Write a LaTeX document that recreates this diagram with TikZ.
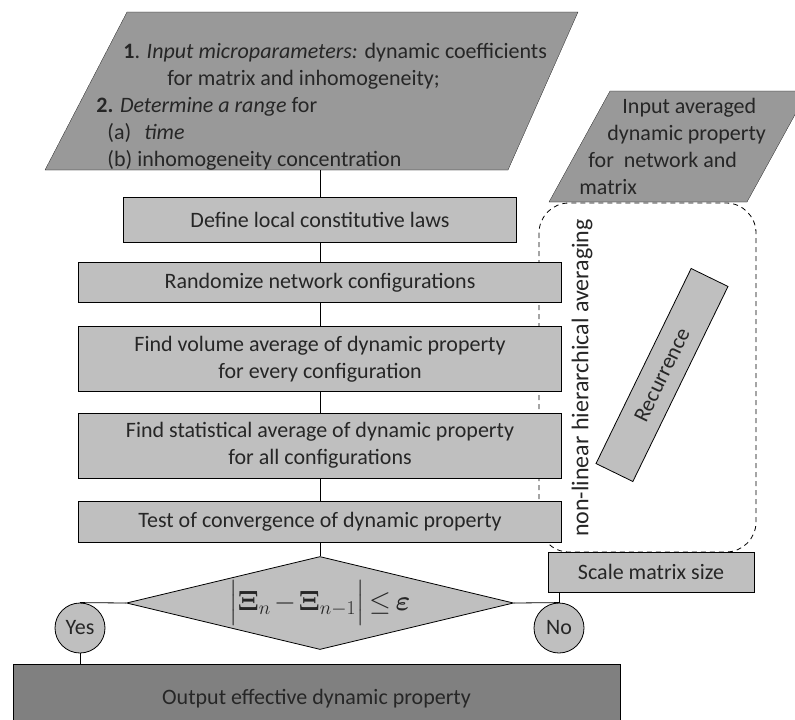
\RequirePackage{fix-cm}
\documentclass[tikz,border=0pt]{standalone}
\usepackage{amsmath}
\usepackage[no-math]{fontspec}
\setmainfont{Carlito}
\usepackage{tkz-euclide}
\usetikzlibrary{shapes.geometric}
\definecolor{boxgray}{gray}{0.75}
\definecolor{inputgray}{gray}{0.6}
\definecolor{outputgray}{gray}{0.5}
\definecolor{textgray}{gray}{0.15}
\tikzset{
    every node/.append style={text=textgray, font=\fontsize{22}{27}\selectfont},
    stepbox/.style={draw=black, fill=boxgray, line width=0.8pt,
        minimum width=483pt, align=center, inner sep=2pt},
    answer/.style={circle, draw=black, fill=boxgray, line width=0.8pt,
        minimum size=50pt, inner sep=0pt}
}

\begin{document}
\begin{tikzpicture}[x=1pt, y=-1pt, line width=0.8pt]
        \useasboundingbox (0,0) rectangle (795,720);
        % loop of the recurrence
        \draw[dash pattern=on 5pt off 4pt, rounded corners=30pt] (539,203) rectangle (756,552);
        % input parallelograms
        \tkzDefPoint(45,170){A}
        \tkzDefPoint(508,170){B}
        \tkzDefPoint(578,12){C}
        \tkzDefPoint(127,12){D}
        \tkzDrawPolygon[fill=inputgray, draw=black](A,B,C,D)
        \tkzDefPoint(549,202){E}
        \tkzDefPoint(747,202){F}
        \tkzDefPoint(808,91){G}
        \tkzDefPoint(610,91){H}
        \tkzDrawPolygon[fill=inputgray, draw=black](E,F,G,H)
        \node[anchor=north west, inner sep=0pt, align=left] (micro) at (96,43)
            {\hspace*{27pt}\textbf{1}. \textit{Input microparameters:} dynamic coefficients\\
             \hspace*{71pt}for matrix and inhomogeneity;\\
             \textbf{2.} \textit{Determine a range} for\\
             \hspace*{11pt}(a)\hspace{0.6em}\textit{time}\\
             \hspace*{11pt}(b) inhomogeneity concentration};
        \node[anchor=north west, inner sep=0pt, align=left] (macro) at (579,98)
            {\hspace*{43pt}Input averaged\\
             \hspace*{28pt}dynamic property\\
             \hspace*{9pt}for\ \ network and\\
             matrix};
        % steps of the averaging
        \node[stepbox, minimum width=393pt, minimum height=45pt] (laws) at (320,219.5) {Define local constitutive laws};
        \node[stepbox, minimum height=40pt] (random) at (320,282.5) {Randomize network configurations};
        \node[stepbox, minimum height=65pt] (volume) at (320,359) {Find volume average of dynamic property\\for every configuration};
        \node[stepbox, minimum height=65pt] (stat) at (320,445.5) {Find statistical average of dynamic property\\for all configurations};
        \node[stepbox, minimum height=41pt] (test) at (320,522) {Test of convergence of dynamic property};
        \node[diamond, aspect=4, draw=black, fill=boxgray, minimum width=387pt, minimum height=93pt, inner sep=0pt] (conv) at (320,603)
            {\fontsize{28}{32}\selectfont\medmuskip=2mu\thickmuskip=3mu
             $\left|\rule[-0.42em]{0pt}{1.42em}\boldsymbol{\Xi}_{n}-\boldsymbol{\Xi}_{n-1}\right|\leq\boldsymbol{\varepsilon}$};
        \node[answer] (yes) at (80,628) {Yes};
        \node[answer] (no) at (559,628) {No};
        \node[draw=black, fill=outputgray, minimum width=607pt, minimum height=70pt] (out) at (316.5,699) {Output effective dynamic property};
        % recurrence
        \node[stepbox, minimum width=206pt, minimum height=40pt] (scale) at (651,572) {Scale matrix size};
        \node[stepbox, rotate=64, minimum width=217pt, minimum height=41pt] (recur) at (662,375) {Recurrence};
        \node[rotate=90, font=\fontsize{24}{28}\selectfont] (avg) at (582,378) {non-linear hierarchical averaging};
        % connectors
        \draw (laws.north) -- (laws.north |- A);
        \foreach \a/\b in {laws/random, random/volume, volume/stat, stat/test, test/conv}
            \draw (\a.south) -- (\b.north);
        \draw (conv.west) -- (yes.north);
        \draw (yes.south) -- (yes.south |- out.north);
        \draw (conv.east) -- (no.north);
        \draw (no.north) -- (no.north |- scale.south);
    \end{tikzpicture}
\end{document}
